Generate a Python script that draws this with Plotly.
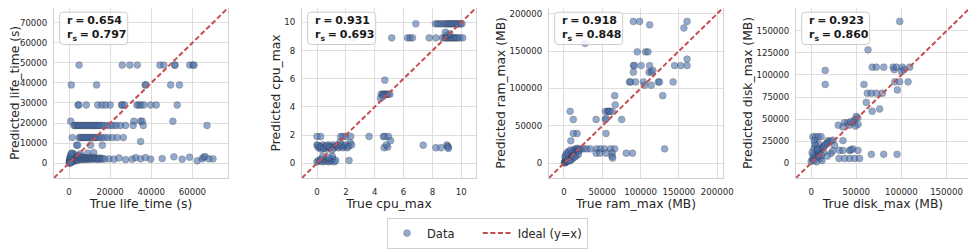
import plotly.graph_objects as go

# ---------------- DATA ----------------
# life_time (s)
life_true = [
    # predicted ~48900
    4900, 25900, 29600, 33200, 44200, 46100, 51300, 51600, 58700, 60300, 60800,
    # predicted ~39000
    1100, 13400, 37000, 37400, 49400, 53700,
    # predicted ~29000
    4400, 4800, 8400, 14000, 16000, 17800, 20000, 25500, 26000, 27000, 33000, 34000, 35000, 36400, 39700, 42400, 52600,
    # predicted ~20900
    800, 31500, 34800, 35600, 50500,
    # predicted ~18800
    2400, 3000, 3800, 4500, 5200, 6000, 6800, 7500, 8200, 9000, 9800, 10500, 11300, 12000, 12800,
    13500, 14300, 15000, 16000, 17000, 18500, 20000, 21500, 23000, 25000, 27500, 31200, 36100, 67100,
    # predicted ~12800
    1600, 4900, 5600, 6300, 7000, 7800, 8500, 9300, 10000, 10800, 11500, 12300, 13000, 14000, 15000,
    16000, 17500, 19000, 21000, 23400, 26400, 34800,
    # predicted ~9000
    3700, 4200, 10500, 16200,
    # predicted ~5000
    1800, 5500, 9000, 12000,
    # low predictions, spread out
    19400, 21800, 24300, 27500, 30700, 32400, 34800, 37200, 39700, 45300, 51000, 55000, 58600, 62300,
    64700, 65500, 66200, 68000, 70000,
    # dense cluster near origin
    150, 300, 450, 600, 750, 900, 1050, 1200, 1350, 1500, 1700, 1900, 2100, 2300, 2500, 2700, 2900,
    3100, 3400, 3700, 4000, 4300, 4600, 4900, 5200, 5500, 5900, 6300, 6700, 7100, 7500, 7900, 8300,
    8700, 9100, 9500, 9900, 10400, 10900, 11400, 11900, 12400, 12900, 13400, 13900, 14400, 15000,
    15600, 16300, 17200, 200, 400, 700, 1000, 1300, 250, 500, 800,
]
life_pred = [
    48900, 48900, 48900, 48900, 48900, 48900, 48900, 48900, 48900, 48900, 48900,
    39000, 39000, 39000, 39000, 39000, 39000,
    29000, 29000, 29000, 29000, 29000, 29000, 29000, 29000, 29000, 29000, 29000, 29000, 29000, 29000, 29000, 29000, 29000,
    20900, 20900, 20900, 20900, 20900,
    18800, 18800, 18800, 18800, 18800, 18800, 18800, 18800, 18800, 18800, 18800, 18800, 18800, 18800, 18800,
    18800, 18800, 18800, 18800, 18800, 18800, 18800, 18800, 18800, 18800, 18800, 18800, 18800, 18800,
    12800, 12800, 12800, 12800, 12800, 12800, 12800, 12800, 12800, 12800, 12800, 12800, 12800, 12800, 12800,
    12800, 12800, 12800, 12800, 12800, 12800, 10800,
    9000, 9000, 9000, 9000,
    4900, 4600, 5000, 5300,
    2200, 2000, 2600, 1800, 2000, 2800, 2200, 2800, 2000, 2300, 3200, 2000, 3000, 1200,
    2200, 3000, 3300, 2200, 2200,
    300, 900, 1600, 500, 2200, 1200, 2900, 700, 1900, 3500, 1100, 2500, 1700, 3100, 900, 2200, 4200,
    1500, 2800, 2000, 3300, 1400, 2500, 3800, 1900, 2800, 2200, 3000, 1800, 2600, 2100, 2900, 1900,
    2500, 2200, 2800, 1900, 2400, 2700, 2000, 2400, 2800, 2100, 2500, 1900, 2300, 2600,
    2000, 2300, 2100, 1500, 2600, 3500, 4500, 5000, 100, 200, 300,
]

# cpu_max
cpu_true = [
    6.85, 8.2, 8.35, 8.5, 8.65, 8.8, 8.95, 9.05, 9.15, 9.25, 9.35, 9.45, 9.55, 9.65, 9.75, 9.85, 9.95, 10.05,
    2.5, 5.18, 6.27, 6.45, 6.62, 7.77, 8.24, 8.7, 8.85, 8.95, 9.05, 9.15, 9.25, 9.35, 9.45, 9.55, 9.65, 9.75, 9.9, 10.1,
    9.0, 9.2, 8.9,
    4.7,
    4.45, 4.55, 4.65, 4.75, 4.85, 4.95, 5.05, 4.4, 4.6,
    0.0, 0.25, 1.64, 1.8, 1.99, 2.33, 3.61, 4.6, 4.7, 4.95,
    5.1, 1.6, 2.3,
    0.0, 0.1, 0.2, 0.3, 0.4, 0.5, 0.6, 0.7, 0.8, 0.9, 1.0, 1.1, 1.2, 1.3, 1.4, 1.5, 1.6, 1.7, 1.8, 1.9, 2.0, 2.1, 2.2, 2.4,
    0.05, 0.25, 0.45, 0.65, 0.85, 1.05,
    4.65, 4.9, 4.8, 7.36, 8.24, 8.6, 9.0, 9.1, 9.05, 9.1,
    0.0, 0.1, 0.2, 0.3, 0.4, 0.5, 0.6, 0.7, 0.8, 0.9, 1.0, 1.1, 1.2, 1.3,
    2.22, 1.06, 0.8, 0.4,
]
cpu_pred = [
    9.9, 9.9, 9.9, 9.9, 9.9, 9.9, 9.9, 9.9, 9.9, 9.9, 9.9, 9.9, 9.9, 9.9, 9.9, 9.9, 9.9, 9.9,
    8.9, 8.9, 8.9, 8.9, 8.9, 8.9, 8.9, 8.9, 8.9, 8.9, 8.9, 8.9, 8.9, 8.9, 8.9, 8.9, 8.9, 8.9, 8.9, 8.9,
    9.1, 9.2, 9.3,
    5.9,
    4.9, 4.9, 4.9, 4.9, 4.9, 4.9, 4.9, 4.6, 4.75,
    1.9, 1.9, 1.9, 1.9, 1.9, 1.9, 1.9, 1.9, 1.9, 1.9,
    1.6, 1.5, 1.45,
    1.3, 1.1, 1.2, 1.0, 1.3, 1.1, 1.2, 1.0, 1.3, 1.1, 1.2, 1.3, 1.1, 1.2, 1.3, 1.1, 1.2, 1.3, 1.1, 1.2, 1.3, 1.1, 1.2, 1.3,
    1.25, 1.15, 1.05, 1.25, 1.15, 0.95,
    1.1, 1.15, 1.3, 1.28, 1.1, 1.1, 1.3, 1.15, 1.2, 1.05,
    0.1, 0.2, 0.15, 0.3, 0.1, 0.2, 0.15, 0.25, 0.1, 0.2, 0.15, 0.3, 0.1, 0.2,
    0.2, 0.5, 0.4, 0.5,
]

# ram_max (MB)
ram_true = [
    90600, 98800, 111800, 160600, 156500, 27600, 95600, 106500, 109600, 160600,
    90600, 92000, 100800, 111800, 144300, 152400, 160600, 90600, 111000, 113900, 116000,
    85400, 87000, 93500, 103600, 123200, 124500, 142400, 105300, 113900,
    66200, 128900, 66900, 8100, 54100, 57300, 58500, 60000, 63000,
    12200, 42000, 54000, 55000, 75300, 54900, 12200, 17100, 9000,
    131300, 22300, 26000, 30000, 34600, 42700, 47600, 52900, 61000, 66200,
    42000, 46800, 54900, 63000, 81300, 89400, 62600, 63500,
    500, 1000, 1500, 2000, 2500, 3000, 3500, 4000, 4500, 5000, 5500, 6000, 6500, 7000, 7500, 8000,
    8500, 9000, 9500, 10000, 10500, 11000, 11500, 12000, 12500, 13000, 13500, 14000, 14500, 15000,
    16000, 17000, 18000, 19000, 20000, 3000, 1500, 6000, 2000, 4000, 8000, 12000, 16000, 19000,
    10000, 14000, 9000, 7000,
]
ram_pred = [
    189500, 189500, 185000, 189500, 180800, 160300, 148900, 148900, 148900, 139300,
    130600, 130600, 130600, 130600, 130600, 130600, 130600, 121800, 121800, 121800, 124000,
    108700, 108700, 108700, 108700, 108700, 108700, 108700, 104400, 104400,
    90400, 90400, 78100, 69400, 69400, 69400, 69400, 69400, 69400,
    58500, 58500, 58500, 60000, 58500, 39800, 39800, 39800, 30100,
    19300, 19300, 19300, 19300, 19300, 19300, 19300, 19300, 19300, 19300,
    13600, 13600, 13600, 13600, 13600, 13600, 9200, 7000,
    500, 2000, 1000, 3500, 1500, 5000, 2500, 6500, 3500, 8000, 4500, 9500, 5500, 11000, 6500, 12000,
    8000, 13000, 9000, 14000, 10000, 15500, 11000, 17000, 12000, 16000, 13000, 18000, 14000, 19000,
    15000, 20000, 16000, 19000, 17000, 12000, 8000, 16000, 10000, 14000, 4000, 7000, 10000, 12000,
    5000, 8500, 18000, 3000,
]

# disk_max (MB)
disk_true = [
    98100, 63000,
    67600, 72200, 80400, 90800, 92000, 94400, 101100, 109200, 100000, 103000,
    15600, 15600, 58500, 92600, 98100, 107400, 95500,
    62200, 66700, 72200, 78900, 61100, 67600, 75900,
    51700, 50000, 48000, 37000, 40700, 46300, 35200, 42000, 44000, 30000, 52000, 49000,
    1900, 5000, 8000, 11100, 3700, 18500, 35200,
    0, 1500, 3000, 4500, 6000, 7500, 9000, 10500, 12000, 13500, 15000, 16500, 18000, 20000, 22000, 24000,
    26000, 5000, 8000, 3000, 6000, 9000, 2000, 10000, 12000, 6000, 3000, 8000, 14000, 11000, 7000, 4000, 1000,
    31500, 35200, 42600, 51900, 46000, 44000,
    66700, 80400, 95200,
    30800, 37000, 42600, 48100, 53700,
    22000, 24000, 18000,
]
disk_pred = [
    160800, 128500,
    108900, 108900, 108900, 108900, 106000, 108900, 108900, 108900, 104000, 106000,
    105200, 89300, 89300, 92200, 92200, 92200, 83000,
    79300, 79300, 79300, 79300, 68900, 58900, 61400,
    51400, 53000, 49000, 45900, 45900, 45900, 41100, 43000, 47000, 43000, 44000, 42000,
    30000, 30000, 30000, 30000, 25600, 25600, 25600,
    2000, 4000, 6000, 8000, 10000, 12000, 14000, 16000, 17500, 19000, 20000, 21500, 22500, 24000, 25000, 26000,
    20000, 20000, 22000, 16000, 14000, 11000, 9000, 5000, 3000, 1500, 3000, 7500, 12000, 9000, 16000, 22000, 12000,
    14400, 14400, 14400, 14400, 16000, 15000,
    10000, 10000, 10000,
    5200, 5200, 5200, 5200, 5200,
    11000, 14000, 8000,
]

# panel texts and axis settings
var_labels = ["life_time (s)", "cpu_max", "ram_max (MB)", "disk_max (MB)"]
pearson_r = ["0.654", "0.931", "0.918", "0.923"]
spearman_r = ["0.797", "0.693", "0.848", "0.860"]
legend_names = ["Data", "Ideal (y=x)"]
axis_lims = [[-7300, 77300], [-1.04, 11.02], [-19500, 207500], [-16800, 176000]]
x_ticks = [[0, 20000, 40000, 60000], [0, 2, 4, 6, 8, 10],
           [0, 50000, 100000, 150000, 200000], [0, 50000, 100000, 150000]]
y_ticks = [[0, 10000, 20000, 30000, 40000, 50000, 60000, 70000], [0, 2, 4, 6, 8, 10],
           [0, 50000, 100000, 150000, 200000],
           [0, 25000, 50000, 75000, 100000, 125000, 150000, 175000]]

trues = [life_true, cpu_true, ram_true, disk_true]
preds = [life_pred, cpu_pred, ram_pred, disk_pred]
for t, p in zip(trues, preds):
    assert len(t) == len(p), (len(t), len(p))

# ---------------- LAYOUT ----------------
# the page body has an 8px margin: the figure is drawn 8px in from the window's corner
OFF = 8
W, H = 976 - OFF, 249 - OFF


def fx(px):
    return min(1.0, max(0.0, (px - OFF) / W))


def fy(py):
    return min(1.0, max(0.0, 1 - (py - OFF) / H))


px_left = [54, 302, 549, 796]
px_w = 174
top_px, bot_px = 8, 181.5
FONT = "DejaVu Sans"
SP = "\u2005"
NBSP = "\u00a0"

fig = go.Figure()
layout = dict(
    width=W, height=H,
    margin=dict(l=0, r=0, t=0, b=0, pad=0),
    paper_bgcolor="white", plot_bgcolor="white",
    font=dict(family=FONT, color="#262626"),
    showlegend=True,
    legend=dict(orientation="h", x=fx(487.5), xanchor="center", y=fy(222), yanchor="top",
                bordercolor="#d0d0d0", borderwidth=1, bgcolor="white",
                font=dict(size=11.5, family=FONT, color="#262626"),
                itemwidth=30, tracegroupgap=0),
)
annotations, shapes = [], []
for i in range(4):
    sfx = "" if i == 0 else str(i + 1)
    xa, ya = "x" + sfx, "y" + sfx
    lims = axis_lims[i]
    fig.add_trace(go.Scatter(
        x=trues[i], y=preds[i], mode="markers", name=legend_names[0] + NBSP * 5, legendgroup="data",
        showlegend=(i == 0), xaxis=xa, yaxis=ya,
        marker=dict(size=6.8, color="#4c72b0", opacity=0.6, line=dict(color="#1a1a1a", width=0.45)),
    ))
    fig.add_trace(go.Scatter(
        x=lims, y=lims, mode="lines", name=legend_names[1], legendgroup="ideal",
        showlegend=(i == 0), xaxis=xa, yaxis=ya,
        line=dict(color="#c44e52", width=2, dash="5px,2.6px"),
    ))
    ax_common = dict(
        showgrid=True, gridcolor="#dedede", gridwidth=1, zeroline=False,
        showline=True, mirror=True, linecolor="#d0d0d0", linewidth=1,
        ticks="outside", tickcolor="rgba(0,0,0,0)",
        tickfont=dict(size=8.6, family=FONT, color="#262626"),
        tickformat="d", automargin=False, range=lims,
    )
    L = px_left[i]
    layout["xaxis" + sfx] = dict(
        ax_common, domain=[fx(L), fx(L + px_w)], anchor=ya, ticklen=6,
        tickvals=x_ticks[i],
        title=dict(text="True " + var_labels[i], font=dict(size=12.3, family=FONT, color="#262626"), standoff=1),
    )
    layout["yaxis" + sfx] = dict(
        ax_common, domain=[fy(bot_px), fy(top_px)], anchor=xa, ticklen=4,
        tickvals=y_ticks[i],
        title=dict(text="Predicted " + var_labels[i], font=dict(size=12.3, family=FONT, color="#262626"), standoff=1),
    )
    # rounded stats box
    bx0, bx1 = L + 5.7, L + 73.7
    by0, by1 = 12.3, 45.3
    r = 3.5
    x0, x1, y0, y1 = fx(bx0), fx(bx1), fy(by0), fy(by1)
    rx, ry = r / W, r / H
    path = (f"M{x0 + rx},{y0} L{x1 - rx},{y0} Q{x1},{y0} {x1},{y0 - ry} "
            f"L{x1},{y1 + ry} Q{x1},{y1} {x1 - rx},{y1} L{x0 + rx},{y1} "
            f"Q{x0},{y1} {x0},{y1 + ry} L{x0},{y0 - ry} Q{x0},{y0} {x0 + rx},{y0} Z")
    shapes.append(dict(type="path", xref="paper", yref="paper", path=path,
                       fillcolor="rgba(255,255,255,0.85)", line=dict(color="#cccccc", width=1), layer="above"))
    annotations.append(dict(
        xref="paper", yref="paper", x=fx(bx0 + 5), y=fy((by0 + by1) / 2), xanchor="left", yanchor="middle",
        text=f"<b>r{SP}={SP}{pearson_r[i]}</b><br><b>r<sub>s</sub>{SP}={SP}{spearman_r[i]}</b>",
        showarrow=False, align="left", font=dict(size=11, family=FONT, color="#1a1a1a"),
    ))
layout["annotations"] = annotations
layout["shapes"] = shapes
fig.update_layout(**layout)
fig.write_html("out.html")
